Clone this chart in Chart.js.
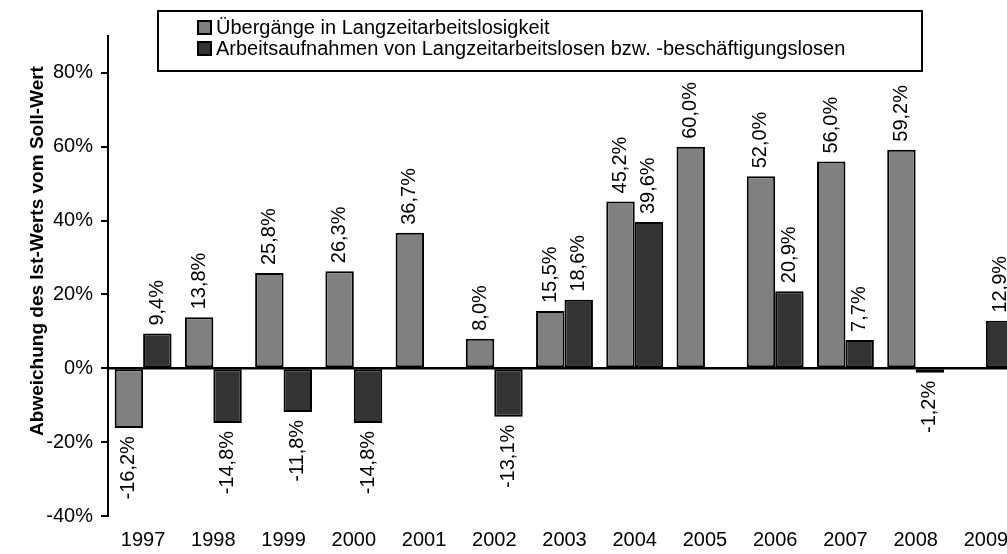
<!DOCTYPE html>
<html>
<head>
<meta charset="utf-8">
<script src="https://cdn.jsdelivr.net/npm/chart.js@4.4.1/dist/chart.umd.min.js"></script>
<style>
  html, body { margin: 0; padding: 0; background: #fff; overflow: hidden; }
  #wrap { width: 1022px; height: 554px; }
</style>
</head>
<body>
<div id="wrap"><canvas id="chart"></canvas></div>
<script>
// ----------------------------
// Daten
// ----------------------------
const years = ["1997", "1998", "1999", "2000", "2001", "2002", "2003", "2004", "2005", "2006", "2007", "2008", "2009"];
const uebergaenge = [-16.2, 13.8, 25.8, 26.3, 36.7, 8.0, 15.5, 45.2, 60.0, 52.0, 56.0, 59.2, null];
const arbeitsaufnahmen = [9.4, -14.8, -11.8, -14.8, null, -13.1, 18.6, 39.6, null, 20.9, 7.7, -1.2, 12.9];
const yTicks = [-40, -20, 0, 20, 40, 60, 80];
const seriesLabels = [
    "Übergänge in Langzeitarbeitslosigkeit",
    "Arbeitsaufnahmen von Langzeitarbeitslosen bzw. -beschäftigungslosen"
];
const yTitle = "Abweichung des Ist-Werts vom Soll-Wert";

const FONT = 'Arial, "Liberation Sans", sans-serif';
Chart.defaults.font.family = FONT;
Chart.defaults.font.size = 20;
Chart.defaults.color = "#000";

// ----------------------------
// Nulllinie + Beschriftung der Balken (senkrecht)
// ----------------------------
const barLabels = {
    id: "barLabels",
    afterDatasetsDraw(chart) {
        const ctx = chart.ctx;
        const y0 = chart.scales.y.getPixelForValue(0);
        const area = chart.chartArea;

        ctx.save();
        ctx.strokeStyle = "#000";
        ctx.lineWidth = 2.5;
        ctx.beginPath();
        ctx.moveTo(area.left, y0);
        ctx.lineTo(area.right, y0);
        ctx.stroke();
        ctx.restore();

        ctx.save();
        ctx.font = "20px " + FONT;
        ctx.fillStyle = "#000";
        ctx.textBaseline = "middle";
        chart.data.datasets.forEach((ds, i) => {
            chart.getDatasetMeta(i).data.forEach((bar, j) => {
                const v = ds.data[j];
                if (v === null) return;
                const txt = v.toFixed(1).replace(".", ",") + "%";
                ctx.save();
                ctx.translate(bar.x, v >= 0 ? bar.y - 8 : bar.y + 8);
                ctx.rotate(-Math.PI / 2);
                ctx.textAlign = v >= 0 ? "left" : "right";
                ctx.fillText(txt, 0, 0);
                ctx.restore();
            });
        });
        ctx.restore();
    }
};

// ----------------------------
// Achsentitel + Legende mit Rahmen
// ----------------------------
const extras = {
    id: "extras",
    afterDraw(chart) {
        const ctx = chart.ctx;

        ctx.save();
        ctx.font = "bold 19px " + FONT;
        ctx.fillStyle = "#000";
        ctx.textAlign = "center";
        ctx.textBaseline = "middle";
        ctx.translate(38, 251);
        ctx.rotate(-Math.PI / 2);
        ctx.fillText(yTitle, 0, 0);
        ctx.restore();

        ctx.save();
        ctx.fillStyle = "#fff";
        ctx.fillRect(158, 11, 764, 60);
        ctx.strokeStyle = "#000";
        ctx.lineWidth = 2;
        ctx.strokeRect(158, 11, 764, 60);
        ctx.font = "20px " + FONT;
        ctx.textBaseline = "middle";
        chart.data.datasets.forEach((ds, i) => {
            const y = 27 + i * 21;
            ctx.fillStyle = ds.backgroundColor;
            ctx.fillRect(198, y - 6, 13, 13);
            ctx.strokeStyle = "#000";
            ctx.lineWidth = 2;
            ctx.strokeRect(198, y - 6, 13, 13);
            ctx.fillStyle = "#000";
            ctx.textAlign = "left";
            ctx.fillText(ds.label, 216, y + 1);
        });
        ctx.restore();
    }
};

const ctx = document.getElementById("chart").getContext("2d");

new Chart(ctx, {
    type: "bar",
    data: {
        labels: years,
        datasets: [
            {
                label: seriesLabels[0],
                data: uebergaenge,
                backgroundColor: "#808080",
                borderColor: "#000",
                borderWidth: 2,
                borderSkipped: false
            },
            {
                label: seriesLabels[1],
                data: arbeitsaufnahmen,
                backgroundColor: "#333333",
                borderColor: "#000",
                borderWidth: 2,
                borderSkipped: false
            }
        ]
    },
    options: {
        responsive: true,
        maintainAspectRatio: false,
        animation: false,
        layout: { padding: { top: 36, right: 1, left: 0, bottom: 0 } },
        datasets: {
            bar: { barPercentage: 1, categoryPercentage: 0.81 }
        },
        plugins: {
            legend: { display: false },
            tooltip: { enabled: false }
        },
        scales: {
            x: {
                grid: { display: false, drawTicks: false },
                border: { display: false },
                ticks: { padding: 12, maxRotation: 0, font: { size: 20 } },
                afterFit(scale) { scale.height = 38; }
            },
            y: {
                min: -40,
                max: 90,
                afterBuildTicks(scale) {
                    scale.ticks = yTicks.map(v => ({ value: v }));
                },
                afterFit(scale) { scale.width = 108; },
                grid: {
                    drawOnChartArea: false,
                    tickColor: "#000",
                    tickLength: 7,
                    lineWidth: 2
                },
                border: { display: true, color: "#000", width: 2 },
                ticks: {
                    padding: 8,
                    font: { size: 20 },
                    callback: v => v + "%"
                }
            }
        }
    },
    plugins: [barLabels, extras]
});
</script>
</body>
</html>
